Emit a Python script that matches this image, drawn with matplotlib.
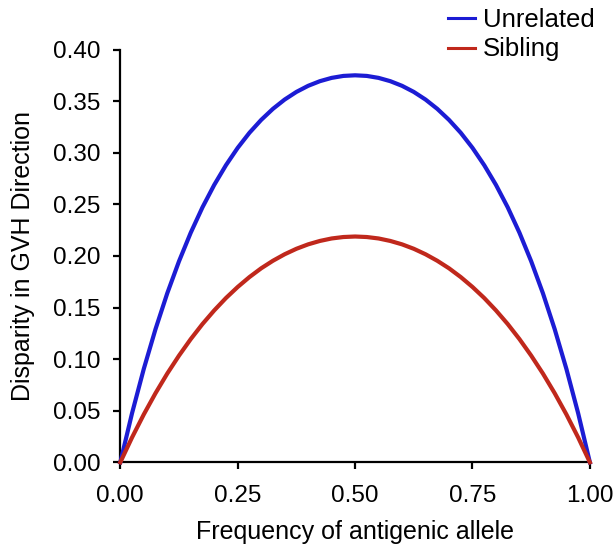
import matplotlib
matplotlib.use("Agg")
import matplotlib.pyplot as plt

plt.rcParams.update({
    "font.family": ["Liberation Sans", "DejaVu Sans"],
    "font.size": 18,
    "axes.spines.top": False, "axes.spines.right": False,
})

# frequency of antigenic allele (every 0.025)
freq = [i / 40 for i in range(41)]
unrelated = [0.0, 0.0476, 0.0905, 0.1291, 0.1638, 0.1948, 0.2225, 0.2471, 0.2688,
             0.2879, 0.3047, 0.3193, 0.3318, 0.3425, 0.3515, 0.3589, 0.3648, 0.3693,
             0.3725, 0.3744, 0.375,
             0.3744, 0.3725, 0.3693, 0.3648, 0.3589, 0.3515, 0.3425, 0.3318, 0.3193,
             0.3047, 0.2879, 0.2688, 0.2471, 0.2225, 0.1948, 0.1638, 0.1291, 0.0905,
             0.0476, 0.0]
sibling = [0.0, 0.0241, 0.0464, 0.0670, 0.0860, 0.1034, 0.1194, 0.1340, 0.1472,
           0.1592, 0.1699, 0.1795, 0.1880, 0.1953, 0.2016, 0.2069, 0.2112, 0.2145,
           0.2169, 0.2183, 0.2188,
           0.2183, 0.2169, 0.2145, 0.2112, 0.2069, 0.2016, 0.1953, 0.1880, 0.1795,
           0.1699, 0.1592, 0.1472, 0.1340, 0.1194, 0.1034, 0.0860, 0.0670, 0.0464,
           0.0241, 0.0]
xticks = [0.0, 0.25, 0.5, 0.75, 1.0]
yticks = [0.0, 0.05, 0.10, 0.15, 0.20, 0.25, 0.30, 0.35, 0.40]

BLUE, RED = "#1c1cd4", "#c0281c"

fig = plt.figure(figsize=(6.16, 5.47), dpi=100)
ax = fig.add_axes([0.1953, 0.1548, 0.7623, 0.7547])
ax.plot(freq, unrelated, color=BLUE, lw=3, label="Unrelated", clip_on=False, zorder=3)
ax.plot(freq, sibling, color=RED, lw=3, label="Sibling", clip_on=False, zorder=3)

ax.set_xlim(0, 1); ax.set_ylim(0, 0.4)
ax.set_xticks(xticks); ax.set_xticklabels([f"{t:.2f}" for t in xticks])
ax.set_yticks(yticks); ax.set_yticklabels([f"{t:.2f}" for t in yticks])
for s in ("left", "bottom"):
    ax.spines[s].set_linewidth(1.6)
ax.tick_params(direction="out", length=5, width=1.6, labelsize=17.5)
ax.tick_params(axis="x", pad=11)
ax.tick_params(axis="y", pad=9)
ax.set_xlabel("Frequency of antigenic allele", labelpad=10)
ax.set_ylabel("Disparity in GVH Direction")
ax.yaxis.set_label_coords(-0.182, 0.5)

leg = fig.legend(loc="upper left", bbox_to_anchor=(0.69, 1.027), frameon=False,
                 handlelength=1.05, handletextpad=0.3, labelspacing=0.2, fontsize=18.5)
for h in leg.get_lines():
    h.set_linewidth(2.2)

fig.savefig("out.png", dpi=100)
